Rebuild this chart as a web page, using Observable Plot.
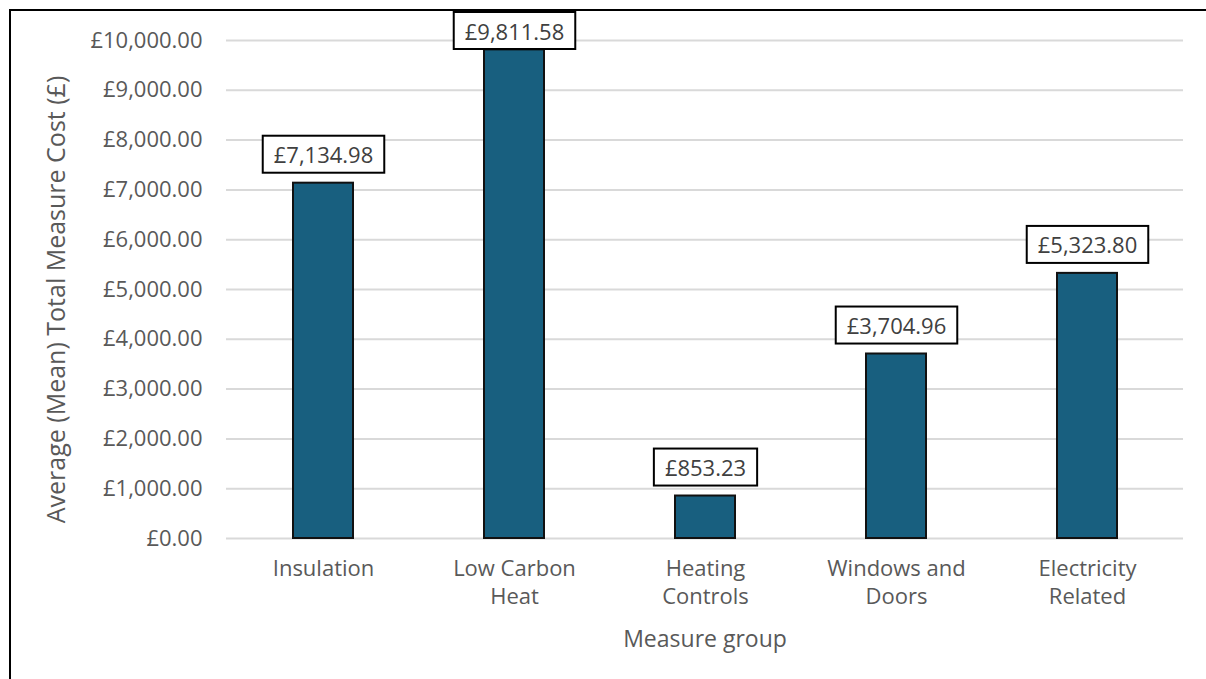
<!DOCTYPE html>
<html>
<head>
<meta charset="utf-8">
<script src="https://cdn.jsdelivr.net/npm/d3@7"></script>
<script src="https://cdn.jsdelivr.net/npm/@observablehq/plot@0.6"></script>
<style>
  body { margin: 0; background: #fff; }
  #chart { position: relative; width: 1206px; height: 679px; overflow: hidden; background: #fff; }
  #frame { position: absolute; left: 9px; top: 9px; width: 1400px; height: 900px;
           border: 2px solid #000; box-sizing: border-box; pointer-events: none; }
  #chart svg { position: absolute; left: 0; top: 0; }
</style>
</head>
<body>
<div id="chart"><div id="frame"></div></div>
<script>
// Measure groups and their average (mean) total measure cost in pounds
const groups = ["Insulation", "Low Carbon Heat", "Heating Controls", "Windows and Doors", "Electricity Related"];
const groupLabels = ["Insulation", "Low Carbon\nHeat", "Heating\nControls", "Windows and\nDoors", "Electricity\nRelated"];
const meanCost = [7134.98, 9811.58, 853.23, 3704.96, 5323.80];
const yTicks = [0, 1000, 2000, 3000, 4000, 5000, 6000, 7000, 8000, 9000, 10000];
const yTitle = "Average (Mean) Total Measure Cost (£)";
const xTitle = "Measure group";

const data = groups.map((g, i) => ({ group: g, cost: meanCost[i] }));
const pounds = v => "£" + d3.format(",.2f")(v);
const font = "'Open Sans', 'Noto Sans', sans-serif";

const plot = Plot.plot({
  width: 1206,
  height: 679,
  marginLeft: 226,
  marginRight: 23,
  marginTop: 40,
  marginBottom: 141,
  style: { fontFamily: font, fontSize: "21px", color: "#595959", background: "transparent", overflow: "visible" },
  x: { domain: groups, paddingInner: 0.6875, paddingOuter: 0.34375 },
  y: { domain: [0, 10000] },
  marks: [
    Plot.gridY(yTicks, { stroke: "#d9d9d9", strokeOpacity: 1, strokeWidth: 2 }),
    Plot.barY(data, { x: "group", y: "cost", fill: "#185f7f", stroke: "#111", strokeWidth: 2 }),
    // value labels (boxed below)
    Plot.text(data, {
      x: "group", y: "cost", text: d => pounds(d.cost), dy: -27,
      fontSize: 22, fill: "#404040", className: "value-label"
    }),
    Plot.axisY(yTicks, {
      tickFormat: pounds, tickSize: 0, tickPadding: 24, fontSize: 22, fill: "#595959", label: null
    }),
    Plot.axisX({
      tickFormat: d => groupLabels[groups.indexOf(d)], tickSize: 0, tickPadding: 18,
      fontSize: 22, lineHeight: 1.25, fill: "#595959", label: null
    }),
    // axis titles
    Plot.text([yTitle], {
      frameAnchor: "left", textAnchor: "middle", lineAnchor: "middle",
      rotate: -90, dx: -170, dy: 10, fontSize: 25, fill: "#595959"
    }),
    Plot.text([xTitle], {
      frameAnchor: "bottom", textAnchor: "middle", lineAnchor: "middle",
      dy: 101, fontSize: 23, fill: "#595959"
    })
  ]
});

document.getElementById("chart").append(plot);

// Boxed value labels: a white rectangle with a black outline behind each value,
// kept inside the top of the chart area.
const minTop = 12;
const svgTop = plot.getBoundingClientRect().top;
const valueTexts = Array.from(plot.querySelectorAll("text"))
  .filter(t => t.textContent.startsWith("£") && !t.closest('g[aria-label^="y-axis"]'));
valueTexts.forEach(t => {
  const bb = t.getBBox();
  const padX = 11, h = 37;
  const cy = bb.y + bb.height / 2;
  const wrap = document.createElementNS("http://www.w3.org/2000/svg", "g");
  t.parentNode.insertBefore(wrap, t);
  const rect = document.createElementNS("http://www.w3.org/2000/svg", "rect");
  rect.setAttribute("x", bb.x - padX);
  rect.setAttribute("y", cy - h / 2);
  rect.setAttribute("width", bb.width + 2 * padX);
  rect.setAttribute("height", h);
  rect.setAttribute("fill", "#fff");
  rect.setAttribute("stroke", "#000");
  rect.setAttribute("stroke-width", 2);
  const tf = t.getAttribute("transform");
  if (tf) rect.setAttribute("transform", tf);
  wrap.append(rect, t);
  const top = rect.getBoundingClientRect().top - svgTop;
  if (top < minTop) wrap.setAttribute("transform", `translate(0,${minTop - top})`);
});
</script>
</body>
</html>
